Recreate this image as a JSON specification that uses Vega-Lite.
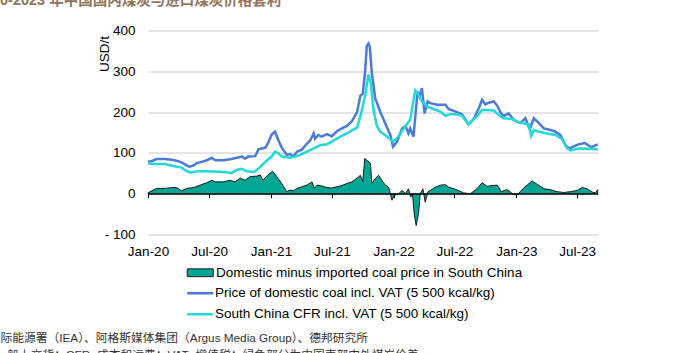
{
  "$schema": "https://vega.github.io/schema/vega-lite/v6.json",
  "width": 450,
  "height": 204,
  "autosize": {"type": "none"},
  "padding": {"left": 148, "top": 30.5, "right": 90, "bottom": 118.5},
  "background": "white",
  "config": {"view": {"stroke": null}, "font": "Liberation Sans, Noto Sans CJK SC"},
  "title": {
    "text": "0-2023 年中国国内煤炭与进口煤炭价格套利",
    "anchor": "start",
    "frame": "group",
    "dx": -148,
    "dy": 10,
    "fontSize": 14.5,
    "fontWeight": "bold",
    "color": "#93735a",
    "font": "Liberation Sans, Noto Sans CJK SC",
    "baseline": "alphabetic",
    "offset": 14
  },
  "datasets": {
    "spread": [
      {"d": "2020-01-01", "v": 2}, {"d": "2020-01-12", "v": 7}, {"d": "2020-01-27", "v": 13}, {"d": "2020-02-21", "v": 13},
      {"d": "2020-03-11", "v": 15}, {"d": "2020-03-26", "v": 15}, {"d": "2020-04-10", "v": 7}, {"d": "2020-04-25", "v": 13},
      {"d": "2020-05-15", "v": 15}, {"d": "2020-06-04", "v": 21}, {"d": "2020-06-24", "v": 27}, {"d": "2020-07-09", "v": 33},
      {"d": "2020-07-19", "v": 29}, {"d": "2020-08-12", "v": 29}, {"d": "2020-09-01", "v": 33}, {"d": "2020-09-16", "v": 29},
      {"d": "2020-10-01", "v": 38}, {"d": "2020-10-16", "v": 33}, {"d": "2020-10-31", "v": 42}, {"d": "2020-11-20", "v": 43},
      {"d": "2020-11-30", "v": 46}, {"d": "2020-12-08", "v": 33}, {"d": "2020-12-24", "v": 47}, {"d": "2021-01-06", "v": 55},
      {"d": "2021-01-18", "v": 42}, {"d": "2021-02-02", "v": 25}, {"d": "2021-02-17", "v": 5}, {"d": "2021-02-27", "v": 9},
      {"d": "2021-03-09", "v": 7}, {"d": "2021-03-19", "v": 13}, {"d": "2021-04-03", "v": 17}, {"d": "2021-04-18", "v": 21},
      {"d": "2021-05-03", "v": 29}, {"d": "2021-05-10", "v": 13}, {"d": "2021-05-18", "v": 21}, {"d": "2021-06-01", "v": 19},
      {"d": "2021-06-16", "v": 15}, {"d": "2021-07-01", "v": 14}, {"d": "2021-07-16", "v": 17}, {"d": "2021-07-31", "v": 20},
      {"d": "2021-08-15", "v": 25}, {"d": "2021-08-30", "v": 29}, {"d": "2021-09-14", "v": 38}, {"d": "2021-09-24", "v": 45},
      {"d": "2021-10-01", "v": 30}, {"d": "2021-10-07", "v": 86}, {"d": "2021-10-16", "v": 80}, {"d": "2021-10-24", "v": 74},
      {"d": "2021-10-28", "v": 25}, {"d": "2021-11-07", "v": 37}, {"d": "2021-11-17", "v": 45}, {"d": "2021-11-27", "v": 33},
      {"d": "2021-12-07", "v": 21}, {"d": "2021-12-17", "v": 16}, {"d": "2021-12-27", "v": -16}, {"d": "2022-01-03", "v": -4},
      {"d": "2022-01-16", "v": 0}, {"d": "2022-01-26", "v": 8}, {"d": "2022-02-05", "v": 0}, {"d": "2022-02-14", "v": 12},
      {"d": "2022-02-21", "v": -8}, {"d": "2022-02-26", "v": 0}, {"d": "2022-03-03", "v": -49}, {"d": "2022-03-09", "v": -78},
      {"d": "2022-03-16", "v": -49}, {"d": "2022-03-21", "v": 0}, {"d": "2022-03-29", "v": 12}, {"d": "2022-04-05", "v": -21},
      {"d": "2022-04-12", "v": 4}, {"d": "2022-04-20", "v": 8}, {"d": "2022-05-05", "v": 16}, {"d": "2022-05-20", "v": 21},
      {"d": "2022-06-04", "v": 22}, {"d": "2022-06-14", "v": 16}, {"d": "2022-07-04", "v": 11}, {"d": "2022-07-28", "v": 2},
      {"d": "2022-08-17", "v": 0}, {"d": "2022-09-06", "v": 12}, {"d": "2022-09-21", "v": 27}, {"d": "2022-10-06", "v": 18},
      {"d": "2022-10-21", "v": 20}, {"d": "2022-11-05", "v": 21}, {"d": "2022-11-17", "v": 5}, {"d": "2022-12-04", "v": 10},
      {"d": "2022-12-24", "v": -2}, {"d": "2023-01-03", "v": -3}, {"d": "2023-01-23", "v": 14}, {"d": "2023-02-02", "v": 21},
      {"d": "2023-02-17", "v": 31}, {"d": "2023-03-04", "v": 23}, {"d": "2023-03-24", "v": 12}, {"d": "2023-04-13", "v": 10},
      {"d": "2023-05-02", "v": 5}, {"d": "2023-05-22", "v": 3}, {"d": "2023-06-11", "v": 5}, {"d": "2023-07-01", "v": 8},
      {"d": "2023-07-16", "v": 15}, {"d": "2023-07-31", "v": 12}, {"d": "2023-08-15", "v": 4}, {"d": "2023-08-25", "v": 2},
      {"d": "2023-08-31", "v": 10}
    ],
    "dom": [
      {"d": "2020-01-01", "v": 78}, {"d": "2020-01-12", "v": 80}, {"d": "2020-01-27", "v": 85}, {"d": "2020-02-21", "v": 85},
      {"d": "2020-03-11", "v": 83}, {"d": "2020-03-26", "v": 81}, {"d": "2020-04-10", "v": 77}, {"d": "2020-04-20", "v": 72},
      {"d": "2020-05-03", "v": 66}, {"d": "2020-05-15", "v": 69}, {"d": "2020-05-25", "v": 75}, {"d": "2020-06-09", "v": 78},
      {"d": "2020-06-24", "v": 82}, {"d": "2020-07-09", "v": 88}, {"d": "2020-07-19", "v": 82}, {"d": "2020-08-12", "v": 82},
      {"d": "2020-09-06", "v": 85}, {"d": "2020-09-21", "v": 88}, {"d": "2020-10-06", "v": 91}, {"d": "2020-10-16", "v": 86},
      {"d": "2020-10-26", "v": 91}, {"d": "2020-11-15", "v": 92}, {"d": "2020-11-25", "v": 109}, {"d": "2020-12-15", "v": 113},
      {"d": "2020-12-24", "v": 125}, {"d": "2021-01-03", "v": 145}, {"d": "2021-01-13", "v": 152}, {"d": "2021-01-23", "v": 131},
      {"d": "2021-02-02", "v": 113}, {"d": "2021-02-17", "v": 95}, {"d": "2021-02-27", "v": 97}, {"d": "2021-03-09", "v": 91},
      {"d": "2021-03-19", "v": 103}, {"d": "2021-04-03", "v": 108}, {"d": "2021-04-18", "v": 123}, {"d": "2021-04-28", "v": 131},
      {"d": "2021-05-08", "v": 148}, {"d": "2021-05-12", "v": 135}, {"d": "2021-05-22", "v": 144}, {"d": "2021-06-01", "v": 140},
      {"d": "2021-06-16", "v": 146}, {"d": "2021-07-01", "v": 141}, {"d": "2021-07-16", "v": 153}, {"d": "2021-07-31", "v": 160},
      {"d": "2021-08-15", "v": 166}, {"d": "2021-08-30", "v": 178}, {"d": "2021-09-14", "v": 200}, {"d": "2021-09-24", "v": 240},
      {"d": "2021-10-01", "v": 245}, {"d": "2021-10-08", "v": 300}, {"d": "2021-10-13", "v": 362}, {"d": "2021-10-18", "v": 368},
      {"d": "2021-10-22", "v": 360}, {"d": "2021-10-28", "v": 296}, {"d": "2021-11-07", "v": 234}, {"d": "2021-11-22", "v": 201},
      {"d": "2021-12-07", "v": 172}, {"d": "2021-12-22", "v": 144}, {"d": "2021-12-30", "v": 115}, {"d": "2022-01-11", "v": 127},
      {"d": "2022-01-26", "v": 160}, {"d": "2022-02-05", "v": 166}, {"d": "2022-02-14", "v": 148}, {"d": "2022-02-19", "v": 160},
      {"d": "2022-03-01", "v": 140}, {"d": "2022-03-13", "v": 250}, {"d": "2022-03-19", "v": 238}, {"d": "2022-03-26", "v": 259},
      {"d": "2022-04-03", "v": 197}, {"d": "2022-04-12", "v": 226}, {"d": "2022-04-20", "v": 222}, {"d": "2022-05-10", "v": 218},
      {"d": "2022-06-04", "v": 218}, {"d": "2022-06-14", "v": 207}, {"d": "2022-06-29", "v": 203}, {"d": "2022-07-23", "v": 195},
      {"d": "2022-08-12", "v": 170}, {"d": "2022-08-27", "v": 183}, {"d": "2022-09-11", "v": 209}, {"d": "2022-09-21", "v": 230},
      {"d": "2022-10-01", "v": 219}, {"d": "2022-10-11", "v": 223}, {"d": "2022-10-26", "v": 226}, {"d": "2022-11-05", "v": 216},
      {"d": "2022-11-15", "v": 199}, {"d": "2022-11-24", "v": 190}, {"d": "2022-12-09", "v": 197}, {"d": "2022-12-24", "v": 181},
      {"d": "2023-01-13", "v": 173}, {"d": "2023-01-28", "v": 185}, {"d": "2023-02-10", "v": 158}, {"d": "2023-02-22", "v": 185},
      {"d": "2023-03-04", "v": 177}, {"d": "2023-03-24", "v": 160}, {"d": "2023-04-13", "v": 156}, {"d": "2023-04-27", "v": 152},
      {"d": "2023-05-12", "v": 144}, {"d": "2023-05-17", "v": 136}, {"d": "2023-05-27", "v": 119}, {"d": "2023-06-08", "v": 111},
      {"d": "2023-07-04", "v": 121}, {"d": "2023-07-24", "v": 124}, {"d": "2023-08-12", "v": 114}, {"d": "2023-08-31", "v": 121}
    ],
    "cfr": [
      {"d": "2020-01-01", "v": 74}, {"d": "2020-01-27", "v": 73}, {"d": "2020-02-21", "v": 73}, {"d": "2020-03-16", "v": 68},
      {"d": "2020-04-10", "v": 64}, {"d": "2020-04-25", "v": 55}, {"d": "2020-05-05", "v": 52}, {"d": "2020-05-30", "v": 55},
      {"d": "2020-06-24", "v": 55}, {"d": "2020-08-03", "v": 54}, {"d": "2020-09-06", "v": 51}, {"d": "2020-09-21", "v": 58},
      {"d": "2020-10-06", "v": 61}, {"d": "2020-10-21", "v": 55}, {"d": "2020-11-10", "v": 53}, {"d": "2020-11-20", "v": 58},
      {"d": "2020-12-05", "v": 70}, {"d": "2020-12-20", "v": 82}, {"d": "2021-01-03", "v": 91}, {"d": "2021-01-13", "v": 103},
      {"d": "2021-01-23", "v": 99}, {"d": "2021-02-02", "v": 91}, {"d": "2021-02-27", "v": 88}, {"d": "2021-03-14", "v": 91},
      {"d": "2021-03-29", "v": 95}, {"d": "2021-04-18", "v": 103}, {"d": "2021-05-08", "v": 111}, {"d": "2021-05-28", "v": 119},
      {"d": "2021-06-16", "v": 121}, {"d": "2021-07-06", "v": 130}, {"d": "2021-07-26", "v": 140}, {"d": "2021-08-15", "v": 148},
      {"d": "2021-08-30", "v": 155}, {"d": "2021-09-14", "v": 162}, {"d": "2021-09-24", "v": 190}, {"d": "2021-10-04", "v": 225},
      {"d": "2021-10-09", "v": 245}, {"d": "2021-10-18", "v": 292}, {"d": "2021-10-25", "v": 271}, {"d": "2021-11-02", "v": 205},
      {"d": "2021-11-12", "v": 166}, {"d": "2021-11-22", "v": 152}, {"d": "2021-12-12", "v": 140}, {"d": "2021-12-31", "v": 127},
      {"d": "2022-01-16", "v": 141}, {"d": "2022-01-31", "v": 160}, {"d": "2022-02-19", "v": 181}, {"d": "2022-03-06", "v": 253},
      {"d": "2022-03-16", "v": 242}, {"d": "2022-03-26", "v": 226}, {"d": "2022-04-10", "v": 214}, {"d": "2022-04-30", "v": 207},
      {"d": "2022-05-20", "v": 201}, {"d": "2022-06-04", "v": 191}, {"d": "2022-06-19", "v": 195}, {"d": "2022-07-09", "v": 195},
      {"d": "2022-07-23", "v": 191}, {"d": "2022-08-12", "v": 170}, {"d": "2022-09-06", "v": 190}, {"d": "2022-09-21", "v": 205},
      {"d": "2022-10-06", "v": 205}, {"d": "2022-10-26", "v": 204}, {"d": "2022-11-15", "v": 189}, {"d": "2022-11-24", "v": 185},
      {"d": "2022-12-19", "v": 183}, {"d": "2023-01-08", "v": 175}, {"d": "2023-02-07", "v": 170}, {"d": "2023-02-14", "v": 142},
      {"d": "2023-02-22", "v": 156}, {"d": "2023-03-09", "v": 152}, {"d": "2023-03-29", "v": 148}, {"d": "2023-04-28", "v": 144},
      {"d": "2023-05-17", "v": 134}, {"d": "2023-06-01", "v": 111}, {"d": "2023-06-11", "v": 106}, {"d": "2023-07-06", "v": 111},
      {"d": "2023-08-10", "v": 110}, {"d": "2023-08-31", "v": 109}
    ]
  },
  "layer": [
    {
      "data": {"name": "spread"},
      "mark": {"type": "area", "stroke": "#1a1a1a", "strokeWidth": 1},
      "encoding": {
        "x": {
          "field": "d", "type": "temporal",
          "scale": {"domain": [{"year": 2020, "month": 1, "date": 1, "utc": true}, {"year": 2023, "month": 9, "date": 1, "utc": true}]},
          "axis": {
            "values": [
              {"year": 2020, "month": 1, "date": 1, "utc": true}, {"year": 2020, "month": 7, "date": 1, "utc": true},
              {"year": 2021, "month": 1, "date": 1, "utc": true}, {"year": 2021, "month": 7, "date": 1, "utc": true},
              {"year": 2022, "month": 1, "date": 1, "utc": true}, {"year": 2022, "month": 7, "date": 1, "utc": true},
              {"year": 2023, "month": 1, "date": 1, "utc": true}, {"year": 2023, "month": 7, "date": 1, "utc": true}
            ],
            "labelExpr": "utcFormat(datum.value, '%b-%y')",
            "offset": -40.8, "zindex": 1,
            "domainColor": "#000000", "domainWidth": 1,
            "tickColor": "#000000", "tickSize": 4,
            "labelPadding": 47, "labelFontSize": 13.5, "labelColor": "#000000",
            "labelFont": "Liberation Sans", "labelFlush": false, "labelOverlap": false,
            "grid": false,
            "title": ["际能源署（IEA）、阿格斯媒体集团（Argus Media Group）、德邦研究所", "=船上交货；CFR=成本和运费；VAT=增值税；绿色部分为中国南部内外煤炭价差"],
            "titleX": -148, "titleY": 148, "titleAlign": "left", "titleAnchor": "start",
            "titleBaseline": "alphabetic", "titleFontSize": 11.75, "titleFontWeight": "normal",
            "titleColor": "#333333", "titleLineHeight": 17, "titleFont": "Liberation Sans, Noto Sans CJK SC"
          }
        },
        "y": {
          "field": "v", "type": "quantitative",
          "scale": {"domain": [-100, 400], "nice": false, "zero": false},
          "axis": {
            "values": [-100, -50, 0, 50, 100, 150, 200, 250, 300, 350, 400],
            "labelExpr": "datum.value < 0 ? '- ' + format(-datum.value, 'd') : datum.label",
            "domain": false, "ticks": false,
            "grid": true, "gridColor": "#dcdcdc", "gridWidth": 1.6,
            "labelPadding": 13, "labelFontSize": 13.5, "labelColor": "#000000", "labelFont": "Liberation Sans",
            "title": "USD/t", "titleFontSize": 13.5, "titleFontWeight": "normal", "titleColor": "#000000",
            "titleFont": "Liberation Sans", "titleAngle": -90, "titleX": -40, "titleY": 23,
            "titleAlign": "center", "titleBaseline": "alphabetic"
          }
        },
        "fill": {
          "datum": "Domestic minus imported coal price in South China",
          "scale": {"range": ["#00a693"]},
          "legend": {
            "orient": "none", "legendX": 45.5, "legendY": 235.5, "title": null, "padding": 0,
            "symbolType": "M-2.6,-0.78H2.6V0.78H-2.6Z", "symbolSize": 100,
            "symbolStrokeColor": "#1a1a1a", "symbolStrokeWidth": 1,
            "labelFontSize": 13.5, "labelColor": "#000000", "labelFont": "Liberation Sans",
            "labelOffset": 9, "labelLimit": 0
          }
        }
      }
    },
    {
      "data": {"name": "dom"},
      "mark": {"type": "line", "strokeWidth": 2.5},
      "encoding": {
        "x": {"field": "d", "type": "temporal"},
        "y": {"field": "v", "type": "quantitative"},
        "stroke": {
          "datum": "Price of domestic coal incl. VAT (5 500 kcal/kg)",
          "scale": {
            "domain": ["Price of domestic coal incl. VAT (5 500 kcal/kg)", "South China CFR incl. VAT (5 500 kcal/kg)"],
            "range": ["#4a7bd8", "#22d8d8"]
          },
          "legend": {
            "orient": "none", "legendX": 45.5, "legendY": 256, "title": null, "padding": 0,
            "symbolType": "M-2.6,0H2.6", "symbolSize": 100, "symbolStrokeWidth": 2.5,
            "labelFontSize": 13.5, "labelColor": "#000000", "labelFont": "Liberation Sans",
            "labelOffset": 8, "labelLimit": 0, "rowPadding": 6
          }
        }
      }
    },
    {
      "data": {"name": "cfr"},
      "mark": {"type": "line", "strokeWidth": 2.5},
      "encoding": {
        "x": {"field": "d", "type": "temporal"},
        "y": {"field": "v", "type": "quantitative"},
        "stroke": {"datum": "South China CFR incl. VAT (5 500 kcal/kg)"}
      }
    }
  ]
}
